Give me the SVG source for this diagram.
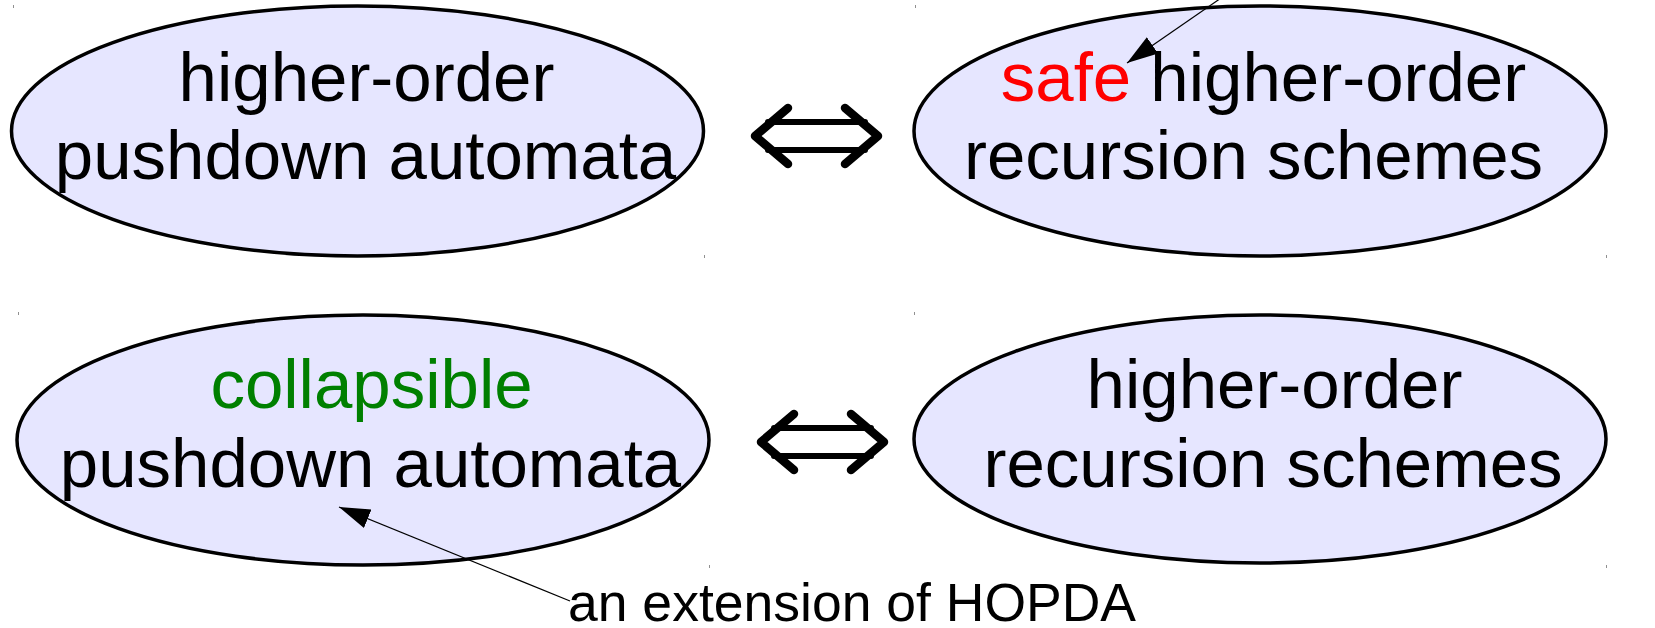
<svg xmlns="http://www.w3.org/2000/svg" width="1655" height="628" viewBox="0 0 1655 628">
  <style>
    .node { fill: #e6e6ff; stroke: #000; stroke-width: 3.5; }
    .lbl { font-family: "Liberation Sans", Arial, sans-serif; font-size: 69px; fill: #000; text-anchor: middle; }
    .note { font-family: "Liberation Sans", Arial, sans-serif; font-size: 53.5px; fill: #000; }
    .safe { fill: #ff0000; }
    .coll { fill: #008000; }
    .tick { fill: #909090; }
    .equiv { fill: none; stroke: #000; stroke-linecap: round; stroke-linejoin: round; }
    .pointer { fill: none; stroke: #000; stroke-width: 1.2; }
  </style>
  <defs>
    <marker id="head" markerUnits="userSpaceOnUse" markerWidth="32" markerHeight="22" viewBox="0 0 32 22" refX="31" refY="11" orient="auto">
      <path d="M0,1 L31,11 L0,21 Z" fill="#000"/>
    </marker>
    <!-- equivalence arrow, drawn around its own centre -->
    <g id="iff">
      <path class="equiv" stroke-width="8.5" d="M-28,-28 L-61,0 L-28,28 M29,-28 L62,0 L29,28"/>
      <path class="equiv" stroke-width="6" stroke-linecap="butt" d="M-48,-14 L49,-14 M-48,14 L49,14"/>
    </g>
  </defs>

  <!-- text-box corner marks -->
  <g id="marks">
    <rect class="tick" x="13" y="5" width="1" height="3"/>
    <rect class="tick" x="704" y="255" width="1" height="3"/>
    <rect class="tick" x="915" y="5" width="1" height="3"/>
    <rect class="tick" x="1606" y="255" width="1" height="3"/>
    <rect class="tick" x="18" y="312" width="1" height="3"/>
    <rect class="tick" x="709" y="565" width="1" height="3"/>
    <rect class="tick" x="914" y="312" width="1" height="3"/>
    <rect class="tick" x="1606" y="565" width="1" height="3"/>
  </g>

  <g id="hopda">
    <ellipse class="node" cx="357.5" cy="131" rx="346" ry="125"/>
    <text class="lbl" x="366.5" y="101">higher-order</text>
    <text class="lbl" x="365.5" y="179">pushdown automata</text>
  </g>

  <g id="safe-hors">
    <ellipse class="node" cx="1260" cy="131" rx="346" ry="125"/>
    <text class="lbl" x="1263.5" y="101"><tspan class="safe">safe</tspan> higher-order</text>
    <text class="lbl" x="1253.5" y="179">recursion schemes</text>
  </g>

  <g id="cpda">
    <ellipse class="node" cx="363" cy="440" rx="346" ry="125"/>
    <text class="lbl" x="371.5" y="408"><tspan class="coll">collapsible</tspan></text>
    <text class="lbl" x="370.5" y="487">pushdown automata</text>
  </g>

  <g id="hors">
    <ellipse class="node" cx="1260" cy="439" rx="346" ry="124"/>
    <text class="lbl" x="1274.5" y="408">higher-order</text>
    <text class="lbl" x="1273" y="487">recursion schemes</text>
  </g>

  <g id="note">
    <text class="note" x="568" y="621">an extension of HOPDA</text>
  </g>

  <g id="connectors">
    <use href="#iff" x="816" y="136"/>
    <use href="#iff" x="822" y="442"/>
    <line class="pointer" x1="1224" y1="-4" x2="1127" y2="63" marker-end="url(#head)"/>
    <line class="pointer" x1="570" y1="601" x2="339" y2="507" marker-end="url(#head)"/>
  </g>
</svg>
